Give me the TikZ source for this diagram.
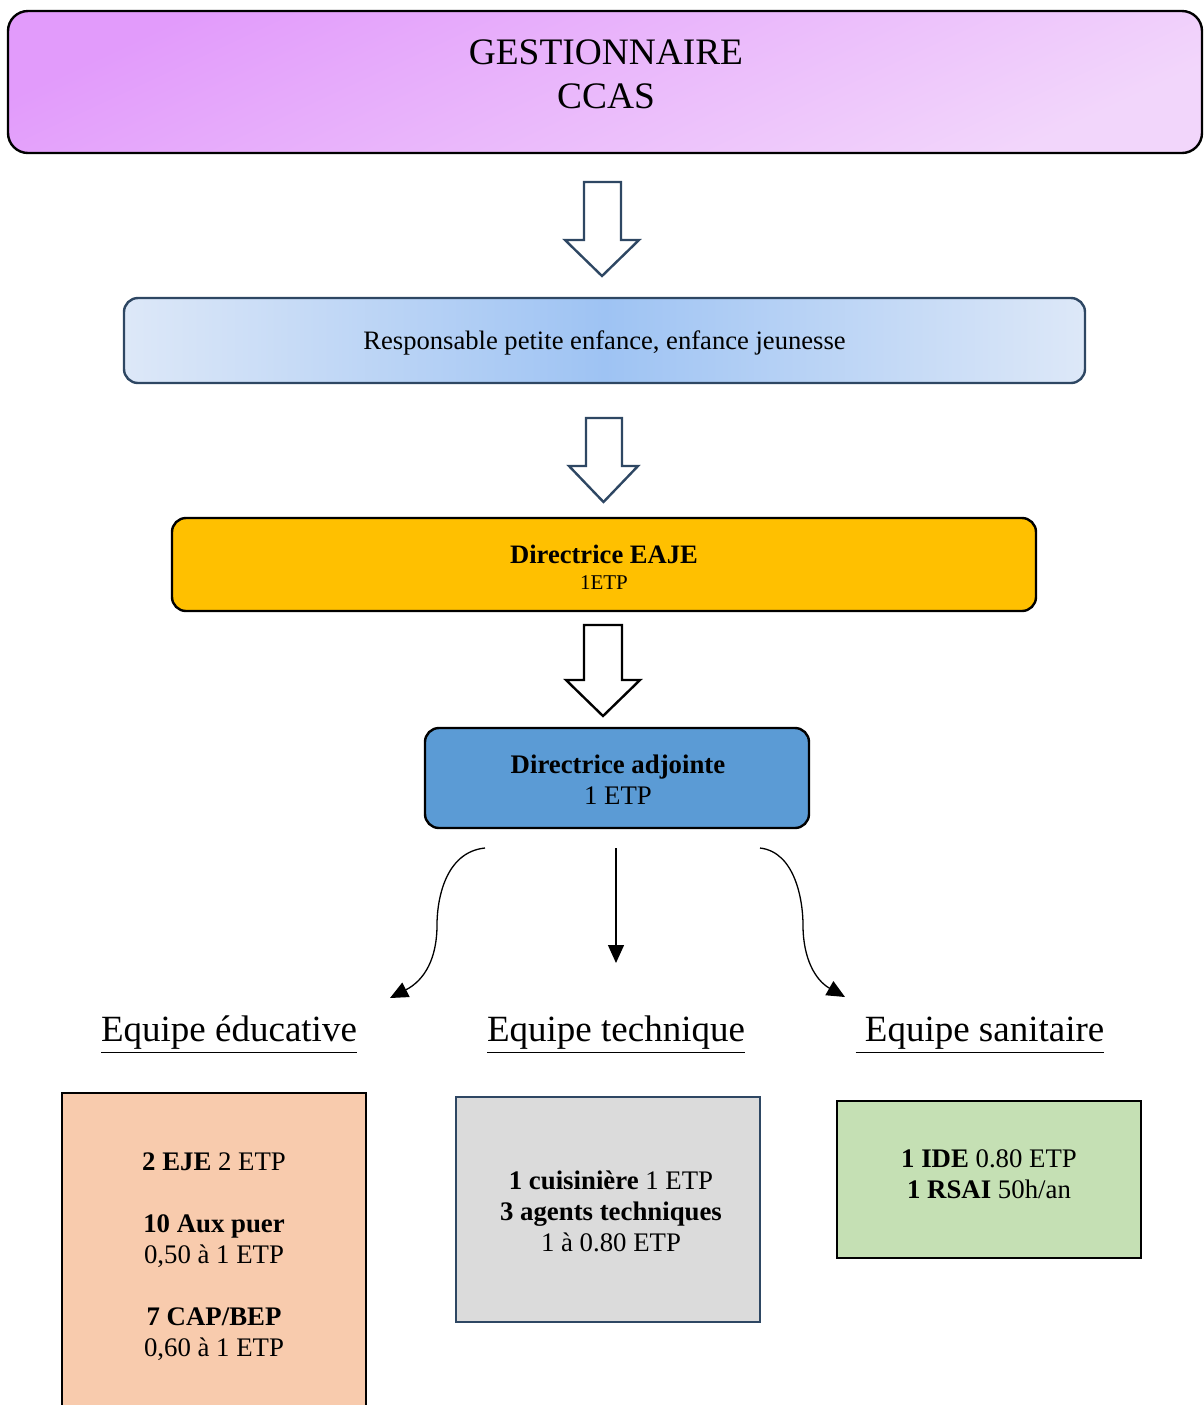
\documentclass[tikz,border=0pt]{standalone}
\usepackage{fontspec}
\setmainfont{Liberation Serif}
\usetikzlibrary{arrows.meta}
\definecolor{navy}{HTML}{2E4763}
\definecolor{purpA}{HTML}{E29BFB}
\definecolor{purpB}{HTML}{F2D6FB}
\definecolor{blueE}{HTML}{DDE8F8}
\definecolor{blueC}{HTML}{9EC3F3}
\definecolor{orangeY}{HTML}{FFC000}
\definecolor{blueD}{HTML}{5B9BD5}
\definecolor{peach}{HTML}{F8CBAD}
\definecolor{grayT}{HTML}{DBDBDB}
\definecolor{greenS}{HTML}{C5E0B4}
\tikzset{
  rbox/.style={draw, rounded corners=7pt, line width=1.2pt, inner sep=0pt, align=center},
  sbox/.style={draw, line width=1.2pt, inner sep=0pt},
  blockarrow/.style={draw, fill=white, line width=1.2pt, line join=miter},
  curvearrow/.style={line width=0.65pt, -{Triangle[length=9pt,width=8pt]}},
  heading/.style={font=\fontsize{18.5}{22}\selectfont, inner sep=0pt},
  bodytext/.style={font=\fontsize{13.4}{15.5}\selectfont, align=center, inner sep=0pt},
}
\begin{document}
\begin{tikzpicture}[x=0.5pt,y=-0.5pt]
\useasboundingbox (0,0) rectangle (1204,1405);
\clip (0,0) rectangle (1204,1405);
% top box
\node[rbox, rounded corners=10pt, minimum width=597pt, minimum height=71pt,
  top color=purpA, bottom color=purpB, shading angle=25] (gest) at (605,82) {};
\node[font=\fontsize{18.7}{22}\selectfont, align=center, inner sep=0pt] (gestt) at (606,74) {GESTIONNAIRE\\CCAS};
\draw[blockarrow, draw=navy] (584,182) -- (621,182) -- (621,240) -- (639,240) -- (602,276) -- (565,240) -- (584,240) -- cycle;
% responsable
\node[rbox, draw=navy, minimum width=480.5pt, minimum height=42.5pt,
  left color=blueE, right color=blueE, middle color=blueC] (resp) at (604.5,340.5) {};
\node[font=\fontsize{13.3}{15}\selectfont, inner sep=0pt] (respt) at (604.5,342.5) {Responsable petite enfance, enfance jeunesse};
\draw[blockarrow, draw=navy] (586,418) -- (622,418) -- (622,466) -- (638,466) -- (603.5,502) -- (569,466) -- (586,466) -- cycle;
% directrice EAJE
\node[rbox, fill=orangeY, minimum width=432pt, minimum height=46.5pt] (dir) at (604,564.5) {};
\node[align=center, inner sep=0pt] (dirt) at (604,567)
  {{\fontsize{13.3}{13.5}\selectfont\bfseries Directrice EAJE}\\[1pt]{\fontsize{10.5}{12}\selectfont 1ETP}};
\draw[blockarrow] (584,625) -- (622,625) -- (622,680) -- (640,680) -- (603,716) -- (566,680) -- (584,680) -- cycle;
% directrice adjointe
\node[rbox, fill=blueD, minimum width=192pt, minimum height=50pt] (adj) at (617,778) {};
\node[font=\fontsize{13.4}{15.5}\selectfont, align=center, inner sep=0pt] (adjt) at (618,780) {\textbf{Directrice adjointe}\\1 ETP};
% connectors
\coordinate (l0) at (485,848);
\coordinate (l1) at (390,998);
\coordinate (m0) at (616,848);
\coordinate (m1) at (616,963);
\coordinate (r0) at (760,848);
\coordinate (r1) at (845,997);
\draw[curvearrow] (l0) .. controls (445,852) and (437,900) .. (437,925) .. controls (437,958) and (425,980) .. (l1);
\draw[curvearrow] (m0) -- (m1);
\draw[curvearrow] (r0) .. controls (795,852) and (803,900) .. (803,925) .. controls (803,958) and (815,980) .. (r1);
% headings
\node[heading] (hedu) at (229,1035) {\underline{Equipe éducative}};
\node[heading] (htech) at (616,1035) {\underline{Equipe technique}};
\node[heading] (hsan) at (980,1035) {\underline{\ Equipe sanitaire}};
% boxes
\node[sbox, fill=peach, minimum width=152pt, minimum height=163.5pt] (edu) at (214,1256.5) {};
\node[bodytext] (edut) at (214,1257) {\textbf{2 EJE} 2 ETP\\[15.5pt]\textbf{10 Aux puer}\\0,50 à 1 ETP\\[15.5pt]\textbf{7 CAP/BEP}\\0,60 à 1 ETP};
\node[sbox, draw=navy, fill=grayT, minimum width=152pt, minimum height=112.5pt] (tech) at (608,1209.5) {};
\node[bodytext] (techt) at (611,1211) {\textbf{1 cuisinière} 1 ETP\\\textbf{3 agents techniques}\\1 à 0.80 ETP};
\node[sbox, fill=greenS, minimum width=152pt, minimum height=78.5pt] (san) at (989,1179.5) {};
\node[bodytext] (sant) at (989,1174) {\textbf{1 IDE} 0.80 ETP\\\textbf{1 RSAI} 50h/an};
\end{tikzpicture}
\end{document}
